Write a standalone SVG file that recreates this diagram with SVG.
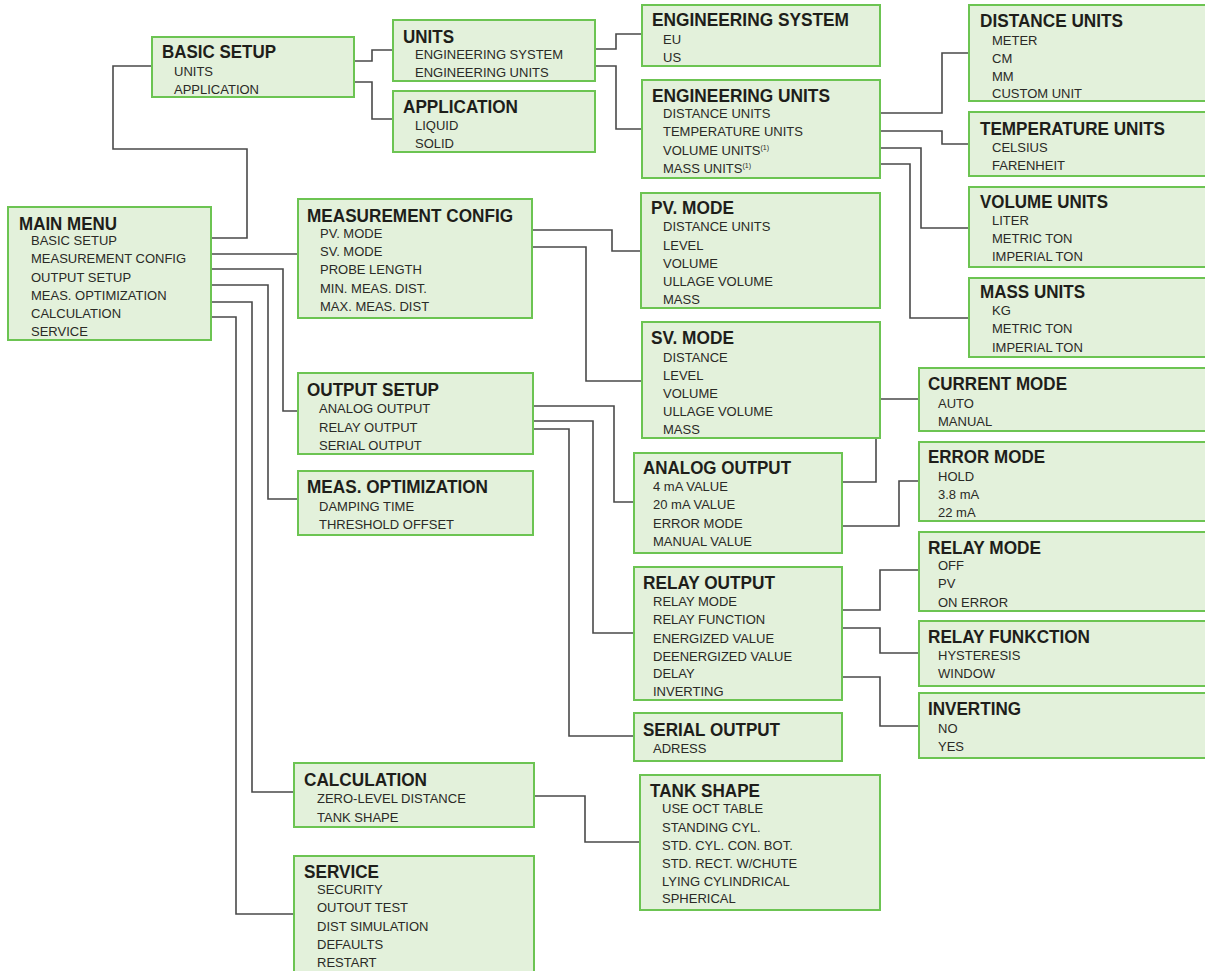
<svg xmlns="http://www.w3.org/2000/svg" width="1205" height="971" viewBox="0 0 1205 971">
<style>
.b{fill:#e3f1db;stroke:#6cc452;stroke-width:2}
.t{font-family:"Liberation Sans",Arial,sans-serif;font-weight:bold;font-size:19px;fill:#1e1e1a}
.i{font-family:"Liberation Sans",Arial,sans-serif;font-size:13px;fill:#2a2a26}
.s{font-size:7px}
.c path{fill:none;stroke:#4a4a4a;stroke-width:1.6}
</style>
<rect width="1205" height="971" fill="#ffffff"/>
<g id="connectors" class="c">
<path d="M211,238 H247 V149 H113 V66 H152"/>
<path d="M211,254 H298"/>
<path d="M211,269 H283 V411 H298"/>
<path d="M211,285 H268 V499 H298"/>
<path d="M211,302 H252 V792 H294"/>
<path d="M211,317 H236 V914 H294"/>
<path d="M354,61 H372 V50 H393"/>
<path d="M354,82 H372 V119 H393"/>
<path d="M595,49 H616 V34 H642"/>
<path d="M595,66 H616 V129 H642"/>
<path d="M880,113 H942 V53 H969"/>
<path d="M880,131 H942 V144 H969"/>
<path d="M880,148 H921 V228 H969"/>
<path d="M880,164 H910 V318 H969"/>
<path d="M532,230 H612 V251 H641"/>
<path d="M532,247 H586 V381 H642"/>
<path d="M533,406 H614 V502 H634"/>
<path d="M533,421 H593 V633 H634"/>
<path d="M533,429 H569 V736 H634"/>
<path d="M842,482 H876 V399 H919"/>
<path d="M842,526 H899 V481 H919"/>
<path d="M842,610 H880 V570 H919"/>
<path d="M842,628 H880 V653 H919"/>
<path d="M842,677 H880 V726 H919"/>
<path d="M534,796 H585 V842 H640"/>
</g>
<g id="main-menu">
<rect class="b" x="8" y="207" width="203" height="133"/>
<text class="t" x="19" y="230" textLength="98" lengthAdjust="spacingAndGlyphs">MAIN MENU</text>
<text class="i" x="31" y="245">BASIC SETUP</text>
<text class="i" x="31" y="263">MEASUREMENT CONFIG</text>
<text class="i" x="31" y="282">OUTPUT SETUP</text>
<text class="i" x="31" y="300">MEAS. OPTIMIZATION</text>
<text class="i" x="31" y="318">CALCULATION</text>
<text class="i" x="31" y="336">SERVICE</text>
</g>
<g id="basic-setup">
<rect class="b" x="152" y="37" width="202" height="60"/>
<text class="t" x="162" y="58" textLength="114" lengthAdjust="spacingAndGlyphs">BASIC SETUP</text>
<text class="i" x="174" y="76">UNITS</text>
<text class="i" x="174" y="94">APPLICATION</text>
</g>
<g id="units">
<rect class="b" x="393" y="20" width="202" height="61"/>
<text class="t" x="403" y="43" textLength="51" lengthAdjust="spacingAndGlyphs">UNITS</text>
<text class="i" x="415" y="59">ENGINEERING SYSTEM</text>
<text class="i" x="415" y="77">ENGINEERING UNITS</text>
</g>
<g id="application">
<rect class="b" x="393" y="91" width="202" height="61"/>
<text class="t" x="403" y="113" textLength="115" lengthAdjust="spacingAndGlyphs">APPLICATION</text>
<text class="i" x="415" y="130">LIQUID</text>
<text class="i" x="415" y="148">SOLID</text>
</g>
<g id="engineering-system">
<rect class="b" x="642" y="5" width="238" height="61"/>
<text class="t" x="652" y="26" textLength="197" lengthAdjust="spacingAndGlyphs">ENGINEERING SYSTEM</text>
<text class="i" x="663" y="44">EU</text>
<text class="i" x="663" y="62">US</text>
</g>
<g id="engineering-units">
<rect class="b" x="642" y="80" width="238" height="98"/>
<text class="t" x="652" y="102" textLength="178" lengthAdjust="spacingAndGlyphs">ENGINEERING UNITS</text>
<text class="i" x="663" y="118">DISTANCE UNITS</text>
<text class="i" x="663" y="136">TEMPERATURE UNITS</text>
<text class="i" x="663" y="155">VOLUME UNITS<tspan class="s" dy="-5">(1)</tspan></text>
<text class="i" x="663" y="173">MASS UNITS<tspan class="s" dy="-5">(1)</tspan></text>
</g>
<g id="distance-units">
<rect class="b" x="969" y="5" width="241" height="96"/>
<text class="t" x="980" y="27" textLength="143" lengthAdjust="spacingAndGlyphs">DISTANCE UNITS</text>
<text class="i" x="992" y="45">METER</text>
<text class="i" x="992" y="63">CM</text>
<text class="i" x="992" y="81">MM</text>
<text class="i" x="992" y="98">CUSTOM UNIT</text>
</g>
<g id="temperature-units">
<rect class="b" x="969" y="112" width="241" height="64"/>
<text class="t" x="980" y="135" textLength="185" lengthAdjust="spacingAndGlyphs">TEMPERATURE UNITS</text>
<text class="i" x="992" y="152">CELSIUS</text>
<text class="i" x="992" y="170">FARENHEIT</text>
</g>
<g id="volume-units">
<rect class="b" x="969" y="187" width="241" height="80"/>
<text class="t" x="980" y="208" textLength="128" lengthAdjust="spacingAndGlyphs">VOLUME UNITS</text>
<text class="i" x="992" y="225">LITER</text>
<text class="i" x="992" y="243">METRIC TON</text>
<text class="i" x="992" y="261">IMPERIAL TON</text>
</g>
<g id="mass-units">
<rect class="b" x="969" y="278" width="241" height="79"/>
<text class="t" x="980" y="298" textLength="105" lengthAdjust="spacingAndGlyphs">MASS UNITS</text>
<text class="i" x="992" y="315">KG</text>
<text class="i" x="992" y="333">METRIC TON</text>
<text class="i" x="992" y="352">IMPERIAL TON</text>
</g>
<g id="measurement-config">
<rect class="b" x="298" y="199" width="234" height="119"/>
<text class="t" x="307" y="222" textLength="206" lengthAdjust="spacingAndGlyphs">MEASUREMENT CONFIG</text>
<text class="i" x="320" y="238">PV. MODE</text>
<text class="i" x="320" y="256">SV. MODE</text>
<text class="i" x="320" y="274">PROBE LENGTH</text>
<text class="i" x="320" y="293">MIN. MEAS. DIST.</text>
<text class="i" x="320" y="311">MAX. MEAS. DIST</text>
</g>
<g id="pv-mode">
<rect class="b" x="641" y="193" width="239" height="115"/>
<text class="t" x="651" y="214" textLength="83" lengthAdjust="spacingAndGlyphs">PV. MODE</text>
<text class="i" x="663" y="231">DISTANCE UNITS</text>
<text class="i" x="663" y="250">LEVEL</text>
<text class="i" x="663" y="268">VOLUME</text>
<text class="i" x="663" y="286">ULLAGE VOLUME</text>
<text class="i" x="663" y="304">MASS</text>
</g>
<g id="sv-mode">
<rect class="b" x="642" y="322" width="238" height="116"/>
<text class="t" x="651" y="344" textLength="83" lengthAdjust="spacingAndGlyphs">SV. MODE</text>
<text class="i" x="663" y="362">DISTANCE</text>
<text class="i" x="663" y="380">LEVEL</text>
<text class="i" x="663" y="398">VOLUME</text>
<text class="i" x="663" y="416">ULLAGE VOLUME</text>
<text class="i" x="663" y="434">MASS</text>
</g>
<g id="output-setup">
<rect class="b" x="298" y="373" width="235" height="81"/>
<text class="t" x="307" y="396" textLength="132" lengthAdjust="spacingAndGlyphs">OUTPUT SETUP</text>
<text class="i" x="319" y="413">ANALOG OUTPUT</text>
<text class="i" x="319" y="432">RELAY OUTPUT</text>
<text class="i" x="319" y="450">SERIAL OUTPUT</text>
</g>
<g id="meas-optimization">
<rect class="b" x="298" y="471" width="235" height="64"/>
<text class="t" x="307" y="493" textLength="181" lengthAdjust="spacingAndGlyphs">MEAS. OPTIMIZATION</text>
<text class="i" x="319" y="511">DAMPING TIME</text>
<text class="i" x="319" y="529">THRESHOLD OFFSET</text>
</g>
<g id="analog-output">
<rect class="b" x="634" y="453" width="208" height="100"/>
<text class="t" x="643" y="474" textLength="148" lengthAdjust="spacingAndGlyphs">ANALOG OUTPUT</text>
<text class="i" x="653" y="491">4 mA VALUE</text>
<text class="i" x="653" y="509">20 mA VALUE</text>
<text class="i" x="653" y="528">ERROR MODE</text>
<text class="i" x="653" y="546">MANUAL VALUE</text>
</g>
<g id="current-mode">
<rect class="b" x="919" y="368" width="291" height="63"/>
<text class="t" x="928" y="390" textLength="139" lengthAdjust="spacingAndGlyphs">CURRENT MODE</text>
<text class="i" x="938" y="408">AUTO</text>
<text class="i" x="938" y="426">MANUAL</text>
</g>
<g id="error-mode">
<rect class="b" x="919" y="442" width="291" height="79"/>
<text class="t" x="928" y="463" textLength="117" lengthAdjust="spacingAndGlyphs">ERROR MODE</text>
<text class="i" x="938" y="481">HOLD</text>
<text class="i" x="938" y="499">3.8 mA</text>
<text class="i" x="938" y="517">22 mA</text>
</g>
<g id="relay-mode">
<rect class="b" x="919" y="532" width="291" height="79"/>
<text class="t" x="928" y="554" textLength="113" lengthAdjust="spacingAndGlyphs">RELAY MODE</text>
<text class="i" x="938" y="570">OFF</text>
<text class="i" x="938" y="588">PV</text>
<text class="i" x="938" y="607">ON ERROR</text>
</g>
<g id="relay-output">
<rect class="b" x="634" y="567" width="208" height="133"/>
<text class="t" x="643" y="589" textLength="132" lengthAdjust="spacingAndGlyphs">RELAY OUTPUT</text>
<text class="i" x="653" y="606">RELAY MODE</text>
<text class="i" x="653" y="624">RELAY FUNCTION</text>
<text class="i" x="653" y="643">ENERGIZED VALUE</text>
<text class="i" x="653" y="661">DEENERGIZED VALUE</text>
<text class="i" x="653" y="678">DELAY</text>
<text class="i" x="653" y="696">INVERTING</text>
</g>
<g id="relay-funkction">
<rect class="b" x="919" y="621" width="291" height="65"/>
<text class="t" x="928" y="643" textLength="162" lengthAdjust="spacingAndGlyphs">RELAY FUNKCTION</text>
<text class="i" x="938" y="660">HYSTERESIS</text>
<text class="i" x="938" y="678">WINDOW</text>
</g>
<g id="inverting">
<rect class="b" x="919" y="693" width="291" height="65"/>
<text class="t" x="928" y="715" textLength="93" lengthAdjust="spacingAndGlyphs">INVERTING</text>
<text class="i" x="938" y="733">NO</text>
<text class="i" x="938" y="751">YES</text>
</g>
<g id="serial-output">
<rect class="b" x="634" y="713" width="208" height="48"/>
<text class="t" x="643" y="736" textLength="137" lengthAdjust="spacingAndGlyphs">SERIAL OUTPUT</text>
<text class="i" x="653" y="753">ADRESS</text>
</g>
<g id="calculation">
<rect class="b" x="294" y="763" width="240" height="64"/>
<text class="t" x="304" y="786" textLength="123" lengthAdjust="spacingAndGlyphs">CALCULATION</text>
<text class="i" x="317" y="803">ZERO-LEVEL DISTANCE</text>
<text class="i" x="317" y="822">TANK SHAPE</text>
</g>
<g id="service">
<rect class="b" x="294" y="856" width="240" height="125"/>
<text class="t" x="304" y="878" textLength="75" lengthAdjust="spacingAndGlyphs">SERVICE</text>
<text class="i" x="317" y="894">SECURITY</text>
<text class="i" x="317" y="912">OUTOUT TEST</text>
<text class="i" x="317" y="931">DIST SIMULATION</text>
<text class="i" x="317" y="949">DEFAULTS</text>
<text class="i" x="317" y="967">RESTART</text>
</g>
<g id="tank-shape">
<rect class="b" x="640" y="775" width="240" height="135"/>
<text class="t" x="650" y="797" textLength="110" lengthAdjust="spacingAndGlyphs">TANK SHAPE</text>
<text class="i" x="662" y="813">USE OCT TABLE</text>
<text class="i" x="662" y="832">STANDING CYL.</text>
<text class="i" x="662" y="850">STD. CYL. CON. BOT.</text>
<text class="i" x="662" y="868">STD. RECT. W/CHUTE</text>
<text class="i" x="662" y="886">LYING CYLINDRICAL</text>
<text class="i" x="662" y="903">SPHERICAL</text>
</g>
</svg>
